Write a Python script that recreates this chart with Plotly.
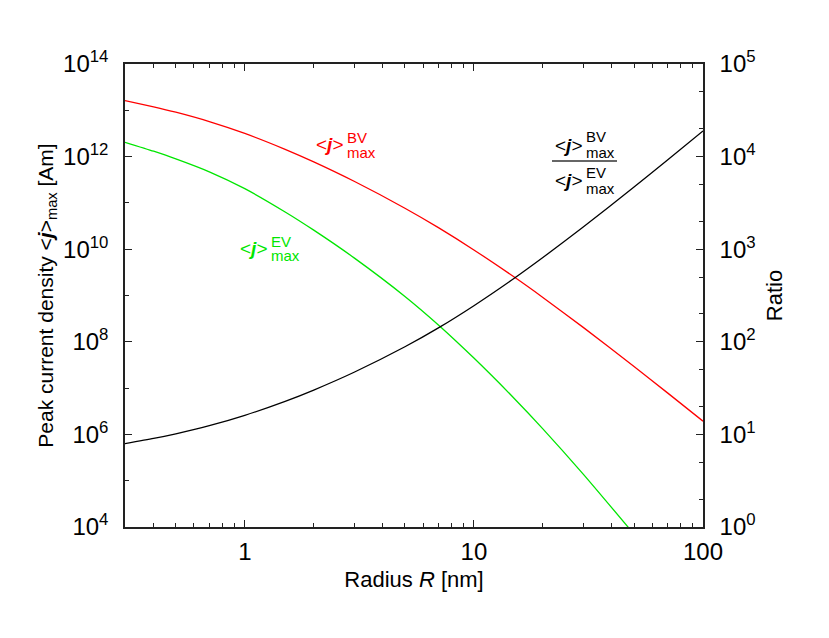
import plotly.graph_objects as go

# ---- data ----
radius_nm = [0.3, 0.4, 0.5, 0.7, 1, 1.5, 2, 3, 5, 7, 10, 15, 20, 30, 50, 70, 100]
j_bv = [1.622e13, 1.189e13, 9.10e12, 5.71e12, 3.17e12, 1.439e12, 7.69e11, 2.93e11,
        7.67e10, 2.92e10, 9.64e9, 2.50e9, 9.08e8, 2.05e8, 2.92e7, 7.89e6, 1.93e6]
radius_ev = [0.3, 0.4, 0.5, 0.7, 1, 1.5, 2, 3, 5, 7, 10, 15, 20, 30, 50]
j_ev = [2.04e12, 1.306e12, 8.93e11, 4.69e11, 2.03e11, 6.38e10, 2.58e10, 6.50e9,
        9.55e8, 2.31e8, 4.45e7, 5.98e6, 1.32e6, 1.39e5, 7.0e3]
ratio = [7.94, 9.04, 10.14, 12.42, 16.07, 22.75, 30.13, 46.88, 88.3, 141.3, 245.5,
         485.3, 812.8, 1734, 4699, 9204, 18920]

x_major = [1, 10, 100]
x_major_text = ["1", "10", "100"]
x_minor = [0.4, 0.5, 0.6, 0.7, 0.8, 0.9, 2, 3, 4, 5, 6, 7, 8, 9,
           20, 30, 40, 50, 60, 70, 80, 90]
y_major = [1e4, 1e6, 1e8, 1e10, 1e12, 1e14]
y_major_text = ["10<sup>4</sup>", "10<sup>6</sup>", "10<sup>8</sup>",
                "10<sup>10</sup>", "10<sup>12</sup>", "10<sup>14</sup>"]
y_minor = [1e5, 1e7, 1e9, 1e11, 1e13]
y2_major = [1, 10, 100, 1e3, 1e4, 1e5]
y2_major_text = ["10<sup>0</sup>", "10<sup>1</sup>", "10<sup>2</sup>",
                 "10<sup>3</sup>", "10<sup>4</sup>", "10<sup>5</sup>"]
y2_minor = [2, 5, 20, 50, 200, 500, 2e3, 5e3, 2e4, 5e4]

# ---- layout geometry (page body has an 8px margin) ----
OFF = 8
W, H = 829 - OFF, 638 - OFF
L, R, T, B = 125, 703, 64, 527          # plot frame on screen
FONT = "Liberation Sans, Arial, Helvetica, sans-serif"
JB = "&lt;<b><i>j</i></b>&gt;"


def px(x, y):
    return (x - L) / (R - L), (B - y) / (B - T)


fig = go.Figure()
fig.add_trace(go.Scatter(x=radius_nm, y=j_bv, mode="lines",
                         line=dict(color="#ff0000", width=1.3, shape="spline", smoothing=0.6),
                         showlegend=False))
fig.add_trace(go.Scatter(x=radius_ev, y=j_ev, mode="lines",
                         line=dict(color="#00e600", width=1.3, shape="spline", smoothing=0.6),
                         showlegend=False))
fig.add_trace(go.Scatter(x=radius_nm, y=ratio, mode="lines", yaxis="y2",
                         line=dict(color="#000000", width=1.3, shape="spline", smoothing=0.6),
                         showlegend=False))

axis_common = dict(showline=True, linecolor="#222", linewidth=1.5, ticks="inside",
                   tickcolor="#222", tickwidth=1.2, ticklen=7, showgrid=False,
                   zeroline=False, tickfont=dict(family=FONT, size=24, color="#000"))

fig.update_layout(
    width=W, height=H,
    margin=dict(l=L - OFF, r=W - (R - OFF), t=T - OFF, b=H - (B - OFF), autoexpand=False),
    paper_bgcolor="white", plot_bgcolor="white",
    font=dict(family=FONT, color="#000"),
    xaxis=dict(type="log", range=[-0.5229, 2], tickmode="array",
               tickvals=x_major, ticktext=x_major_text, mirror="ticks",
               ticklabelstandoff=2,
               minor=dict(tickmode="array", tickvals=x_minor, ticks="inside",
                          ticklen=4, tickcolor="#222", tickwidth=1.2),
               title=dict(text="Radius <i>R</i> [nm]", font=dict(family=FONT, size=22),
                          standoff=8),
               **axis_common),
    yaxis=dict(type="log", range=[4, 14], tickmode="array",
               tickvals=y_major, ticktext=y_major_text, ticklabelstandoff=10,
               minor=dict(tickmode="array", tickvals=y_minor, ticks="inside",
                          ticklen=4, tickcolor="#222", tickwidth=1.2),
               title=dict(text="Peak current density " + JB + "<sub>max</sub> [Am]",
                          font=dict(family=FONT, size=21), standoff=4),
               **axis_common),
    yaxis2=dict(type="log", range=[0, 5], overlaying="y", side="right",
                tickmode="array", tickvals=y2_major, ticktext=y2_major_text,
                ticklabelstandoff=10,
                minor=dict(tickmode="array", tickvals=y2_minor, ticks="inside",
                           ticklen=4, tickcolor="#222", tickwidth=1.2),
                title=dict(text="Ratio", font=dict(family=FONT, size=22), standoff=12),
                **axis_common),
)


def label(x, y, text, size, color, xanchor="center"):
    ax, ay = px(x, y)
    fig.add_annotation(x=ax, y=ay, xref="paper", yref="paper", text=text,
                       showarrow=False, xanchor=xanchor, yanchor="middle",
                       borderpad=0,
                       font=dict(family=FONT, size=size, color=color))


def stacked(xj, yj, sup, yup, ydn, color):
    label(xj, yj, JB, 19, color)
    label(xj + 16, yup, sup, 15, color, xanchor="left")
    label(xj + 16, ydn, "max", 15, color, xanchor="left")


stacked(330, 144, "BV", 137, 152, "#ff0000")
stacked(254, 248, "EV", 241, 255, "#00e600")
stacked(569, 145, "BV", 136, 152, "#000000")
stacked(569, 180, "EV", 172, 188, "#000000")
x0, y0 = px(552, 161)
x1, _ = px(617, 161)
fig.add_shape(type="line", xref="paper", yref="paper", x0=x0, x1=x1, y0=y0, y1=y0,
              line=dict(color="#333", width=1.5))

fig.write_html("out.html")
